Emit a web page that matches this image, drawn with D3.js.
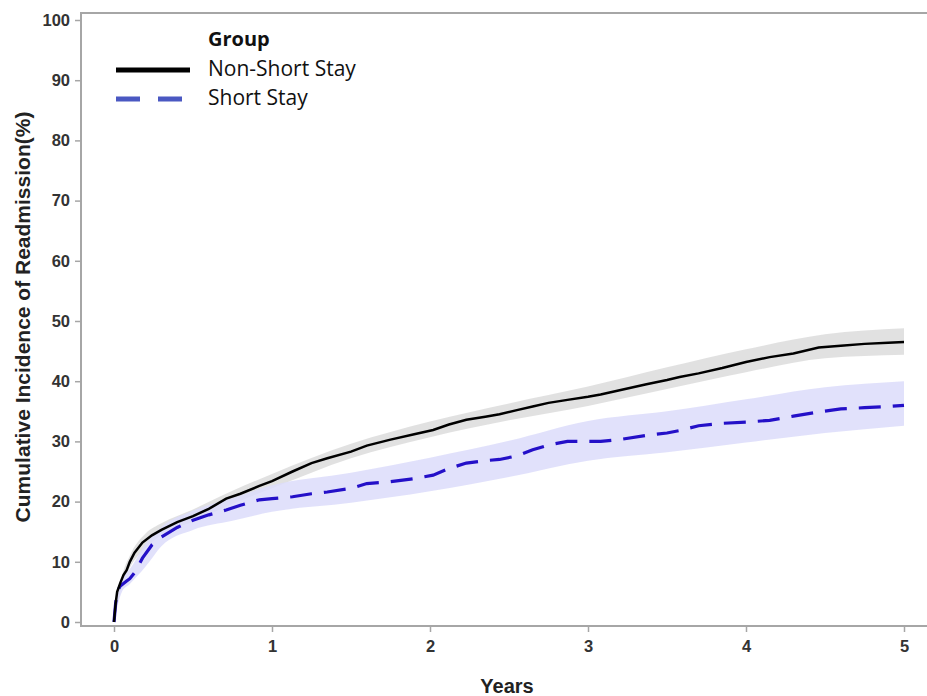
<!DOCTYPE html>
<html>
<head>
<meta charset="utf-8">
<script src="https://cdn.jsdelivr.net/npm/d3@7"></script>
<style>
  body { margin: 0; background: #fff; }
  svg { display: block; }
</style>
</head>
<body>
<div id="chart"></div>
<script>
// Cumulative incidence curves (years -> %)
var years = [0, 0.01, 0.02, 0.04, 0.06, 0.08, 0.1, 0.13, 0.18, 0.24, 0.3, 0.4, 0.5, 0.6, 0.71, 0.8, 0.92, 1.0,
             1.13, 1.25, 1.35, 1.5, 1.6, 1.75, 1.9, 2.02, 2.12, 2.23, 2.35, 2.44, 2.55, 2.65, 2.75, 2.87, 3.0,
             3.08, 3.2, 3.37, 3.5, 3.58, 3.7, 3.85, 4.0, 4.15, 4.3, 4.46, 4.6, 4.75, 4.9, 5.0];
var nonShortStay = [0, 3, 5, 6.5, 7.8, 8.6, 10, 11.5, 13.2, 14.4, 15.3, 16.6, 17.6, 18.8, 20.5, 21.3, 22.6, 23.4,
                    25, 26.4, 27.2, 28.3, 29.3, 30.3, 31.2, 31.9, 32.8, 33.6, 34.1, 34.5, 35.2, 35.8, 36.4, 36.9, 37.4,
                    37.8, 38.5, 39.5, 40.2, 40.7, 41.3, 42.2, 43.2, 44, 44.6, 45.6, 45.9, 46.2, 46.4, 46.5];
var shortStay = [0, 3, 5, 6, 6.4, 6.8, 7.2, 8.2, 10.6, 12.8, 14.1, 15.7, 16.9, 17.8, 18.6, 19.4, 20.3, 20.5,
                 20.8, 21.3, 21.6, 22.2, 23.0, 23.3, 23.8, 24.4, 25.5, 26.4, 26.8, 27, 27.6, 28.6, 29.4, 30, 30,
                 30, 30.3, 31, 31.4, 31.8, 32.6, 33, 33.2, 33.5, 34.2, 34.9, 35.4, 35.6, 35.8, 36.0];

// confidence bands
var bandYears     = [0, 0.05, 0.1, 0.2, 0.3, 0.5, 0.75, 1, 1.5, 2, 2.5, 3, 3.5, 4, 4.5, 5];
var nonShortLow   = [0, 6, 9, 12.3, 14.4, 16.7, 19.6, 22.2, 27.2, 30.7, 33.5, 35.9, 38.7, 41.5, 43.8, 44.4];
var nonShortHigh  = [0, 7.5, 11, 14.7, 16.4, 18.7, 21.8, 24.6, 29.6, 33.3, 36.3, 39.1, 42.3, 45.3, 47.8, 48.8];
var shortLow      = [0, 5, 6.3, 9.2, 12.6, 15.3, 16.8, 18.3, 19.8, 21.7, 24.1, 26.8, 28.2, 29.8, 31.4, 32.6];
var shortHigh     = [0, 7.4, 8.8, 13.0, 15.8, 18.5, 20.6, 22.7, 24.8, 27.3, 30.1, 33.4, 35, 37, 39, 40];

var xTicks = [0, 1, 2, 3, 4, 5];
var yTicks = [0, 10, 20, 30, 40, 50, 60, 70, 80, 90, 100];
var groups = ["Non-Short Stay", "Short Stay"];

var width = 927, height = 696;

var svg = d3.select("#chart").append("svg")
  .attr("width", width)
  .attr("height", height);

var x = d3.scaleLinear().domain([0, 5]).range([114, 904]);
var y = d3.scaleLinear().domain([0, 100]).range([622, 20]);

var axisColor = "#a6a6a6";
var tickFont = "'Liberation Sans', Arial, sans-serif";

// frame: left, bottom, top
svg.append("line").attr("x1", 81).attr("x2", 81).attr("y1", 13).attr("y2", 627)
  .style("stroke", axisColor).style("stroke-width", 2);
svg.append("line").attr("x1", 80).attr("x2", width).attr("y1", 626).attr("y2", 626)
  .style("stroke", axisColor).style("stroke-width", 2);
svg.append("line").attr("x1", 80).attr("x2", width).attr("y1", 13).attr("y2", 13)
  .style("stroke", axisColor).style("stroke-width", 2);

// y axis
var yAxis = svg.append("g")
  .attr("transform", "translate(81,0)")
  .call(d3.axisLeft(y).tickValues(yTicks).tickFormat(d3.format("d")).tickSize(6).tickPadding(5));
yAxis.select(".domain").remove();
yAxis.selectAll(".tick line").style("stroke", axisColor).style("stroke-width", 1.5);
yAxis.selectAll(".tick text")
  .style("font-family", tickFont).style("font-weight", "bold")
  .style("font-size", "16.5px").style("fill", "#333");

// x axis
var xAxis = svg.append("g")
  .attr("transform", "translate(0,626)")
  .call(d3.axisBottom(x).tickValues(xTicks).tickFormat(d3.format("d")).tickSize(6).tickPadding(8));
xAxis.select(".domain").remove();
xAxis.selectAll(".tick line").style("stroke", axisColor).style("stroke-width", 1.5);
xAxis.selectAll(".tick text")
  .style("font-family", tickFont).style("font-weight", "bold")
  .style("font-size", "16.5px").style("fill", "#333");

// axis titles
svg.append("text")
  .attr("transform", "translate(30,317) rotate(-90)")
  .attr("text-anchor", "middle")
  .style("font-family", tickFont).style("font-weight", "bold")
  .style("font-size", "21px").style("fill", "#222")
  .text("Cumulative Incidence of Readmission(%)");

svg.append("text")
  .attr("x", 507).attr("y", 693)
  .attr("text-anchor", "middle")
  .style("font-family", tickFont).style("font-weight", "bold")
  .style("font-size", "20px").style("fill", "#222")
  .text("Years");

// bands
function bandData(lo, hi) {
  return bandYears.map(function(t, i) { return { t: t, lo: lo[i], hi: hi[i] }; });
}
var area = d3.area()
  .x(function(d) { return x(d.t); })
  .y0(function(d) { return y(d.lo); })
  .y1(function(d) { return y(d.hi); })
  .curve(d3.curveMonotoneX);

svg.append("path")
  .datum(bandData(nonShortLow, nonShortHigh))
  .attr("d", area)
  .style("fill", "#dcdcdc").style("opacity", 0.85);
svg.append("path")
  .datum(bandData(shortLow, shortHigh))
  .attr("d", area)
  .style("fill", "#dcdcfa").style("opacity", 0.85);

// curves
function lineData(vals) {
  return years.map(function(t, i) { return { t: t, v: vals[i] }; });
}
var line = d3.line()
  .x(function(d) { return x(d.t); })
  .y(function(d) { return y(d.v); });

svg.append("path")
  .datum(lineData(shortStay))
  .attr("d", line)
  .style("fill", "none").style("stroke", "#2410c8")
  .style("stroke-width", 3.2).style("stroke-dasharray", "22,12");
svg.append("path")
  .datum(lineData(nonShortStay))
  .attr("d", line)
  .style("fill", "none").style("stroke", "#000")
  .style("stroke-width", 2.5);

// legend
var legendFont = "'Open Sans', 'Noto Sans', sans-serif";
svg.append("text")
  .attr("x", 208).attr("y", 46)
  .style("font-family", legendFont).style("font-weight", "bold")
  .style("font-size", "20px").style("fill", "#111")
  .text("Group");

var legendStyles = [
  { stroke: "#000", dash: null },
  { stroke: "#4a58c2", dash: "24,18" }
];
var legend = svg.append("g").selectAll("g")
  .data(groups)
  .enter().append("g")
  .attr("transform", function(d, i) { return "translate(0," + (70 + i * 29) + ")"; });
legend.append("line")
  .attr("x1", 116).attr("x2", 190).attr("y1", 0).attr("y2", 0)
  .style("stroke", function(d, i) { return legendStyles[i].stroke; })
  .style("stroke-width", 5)
  .style("stroke-dasharray", function(d, i) { return legendStyles[i].dash; });
legend.append("text")
  .attr("x", 208).attr("y", 6)
  .style("font-family", legendFont)
  .style("font-size", "21px").style("fill", "#111")
  .text(function(d) { return d; });
</script>
</body>
</html>
